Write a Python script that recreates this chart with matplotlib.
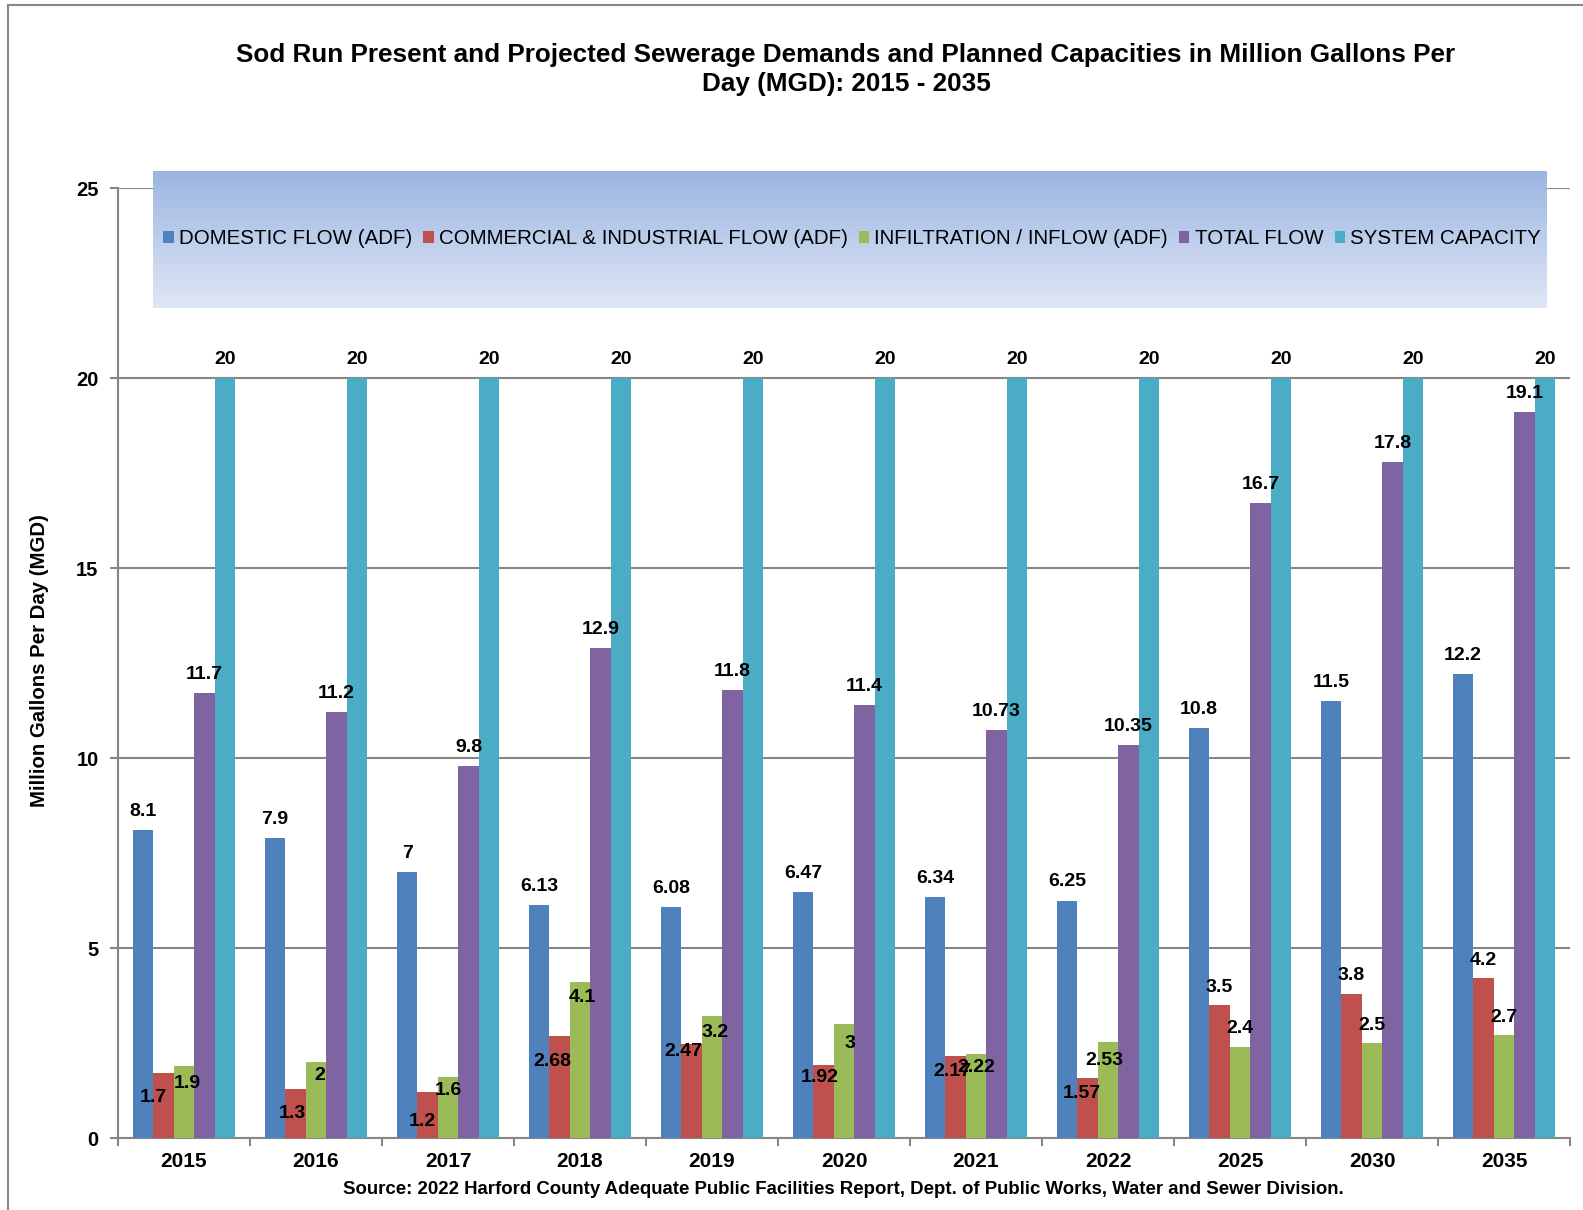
import numpy as np
import matplotlib
matplotlib.use("Agg")
import matplotlib.pyplot as plt
from matplotlib.patches import Patch
from matplotlib.lines import Line2D

plt.rcParams['font.family'] = ['Liberation Sans', 'DejaVu Sans']

years = ["2015", "2016", "2017", "2018", "2019", "2020", "2021", "2022", "2025", "2030", "2035"]
domestic = [8.1, 7.9, 7, 6.13, 6.08, 6.47, 6.34, 6.25, 10.8, 11.5, 12.2]
commercial = [1.7, 1.3, 1.2, 2.68, 2.47, 1.92, 2.17, 1.57, 3.5, 3.8, 4.2]
infiltration = [1.9, 2, 1.6, 4.1, 3.2, 3, 2.22, 2.53, 2.4, 2.5, 2.7]
total_flow = [11.7, 11.2, 9.8, 12.9, 11.8, 11.4, 10.73, 10.35, 16.7, 17.8, 19.1]
capacity = [20, 20, 20, 20, 20, 20, 20, 20, 20, 20, 20]

series_names = ["DOMESTIC FLOW (ADF)", "COMMERCIAL & INDUSTRIAL FLOW (ADF)",
                "INFILTRATION / INFLOW (ADF)", "TOTAL FLOW", "SYSTEM CAPACITY"]
colors = ["#4F81BD", "#C0504D", "#9BBB59", "#8064A2", "#4BACC6"]

# label nudges in pixels (dx, dy up from bar top), hand placed like the original
default_off = [(0, 18.5)] * len(years)
red_off = [(-10, -24), (-3, -25), (-5, -29), (-7, -25), (-8, -7), (-4, -12),
           (-3, -16), (-6, -15), (0, 18), (0, 18), (0, 18)]
green_off = [(3, -18), (4, -13), (0, -13), (2, -15), (3, -16), (6, -19),
             (0, -14), (-4, -19), (0, 18), (0, 18), (0, 18)]

W, H = 1583, 1210
fig = plt.figure(figsize=(W / 100, H / 100), dpi=100)
ax = fig.add_axes([118 / W, 1 - 1138 / H, (1570 - 118) / W, (1138 - 188) / H])

grey = "#868686"
series = [domestic, commercial, infiltration, total_flow, capacity]
offsets = [default_off, red_off, green_off, default_off, default_off]
x = np.arange(len(years))
bw = 0.155
for k, (vals, col, offs) in enumerate(zip(series, colors, offsets)):
    xs = x + (k - 2) * bw
    ax.bar(xs, vals, width=bw, color=col, zorder=3)
    for xi, v, (dx, dy) in zip(xs, vals, offs):
        ax.annotate(f"{v:g}", xy=(xi, v), xytext=(dx * 0.72, dy * 0.72),
                    textcoords="offset points", ha="center", va="center",
                    fontsize=14, fontweight="bold", zorder=5)

ax.set_xlim(-0.5, len(years) - 0.5)
ax.set_ylim(0, 25)
ax.set_yticks(range(0, 26, 5))
ax.yaxis.grid(True, color=grey, linewidth=1.5, zorder=0)
ax.set_axisbelow(True)
ax.set_xticks(x)
ax.set_xticklabels(years, fontsize=15, fontweight="bold")
ax.set_xticks(np.arange(-0.5, len(years), 1), minor=True)
ax.tick_params(axis="x", which="major", length=0, pad=10)
ax.tick_params(axis="x", which="minor", length=6, width=1.5, color=grey)
ax.tick_params(axis="y", length=6, width=1.5, color=grey, pad=8)
for lab in ax.get_yticklabels():
    lab.set_fontsize(14.5)
    lab.set_fontweight("bold")
for side in ["top", "right"]:
    ax.spines[side].set_visible(False)
for side in ["left", "bottom"]:
    ax.spines[side].set_color(grey)
    ax.spines[side].set_linewidth(1.5)

# gradient legend panel
lax = fig.add_axes([153 / W, 1 - 308 / H, (1547 - 153) / W, (308 - 171) / H])
top_c = np.array([155, 181, 226]) / 255
bot_c = np.array([224, 231, 245]) / 255
t = np.linspace(0, 1, 256)[:, None]
grad = (top_c[None, :] * (1 - t) + bot_c[None, :] * t)[:, None, :]
lax.imshow(grad, aspect="auto", extent=[0, 1, 0, 1])
lax.axis("off")

handles = [Patch(facecolor=c, edgecolor="none") for c in colors]
fig.legend(handles, series_names, loc="center", bbox_to_anchor=(852 / W, 1 - 239 / H),
           ncol=5, frameon=False, fontsize=14.8, handlelength=0.5, handleheight=0.5,
           handletextpad=0.25, columnspacing=0.55, borderpad=0)

fig.text(846 / W, 1 - 69.5 / H,
         "Sod Run Present and Projected Sewerage Demands and Planned Capacities in Million Gallons Per\nDay (MGD): 2015 - 2035",
         ha="center", va="center", fontsize=18.8, fontweight="bold", linespacing=1.3)
fig.text(40 / W, 1 - 661 / H, "Million Gallons Per Day (MGD)", rotation=90,
         ha="center", va="center", fontsize=14.7, fontweight="bold")
fig.text(843 / W, 1 - 1189 / H,
         "Source: 2022 Harford County Adequate Public Facilities Report, Dept. of Public Works, Water and Sewer Division.",
         ha="center", va="center", fontsize=13.4, fontweight="bold")

# outer chart border (left and top edges visible)
fig.add_artist(Line2D([8 / W, 8 / W], [0, 1 - 5 / H], color=grey, linewidth=1.5))
fig.add_artist(Line2D([8 / W, 1], [1 - 5 / H, 1 - 5 / H], color=grey, linewidth=1.5))

fig.savefig("out.png", dpi=100)
plt.close(fig)
